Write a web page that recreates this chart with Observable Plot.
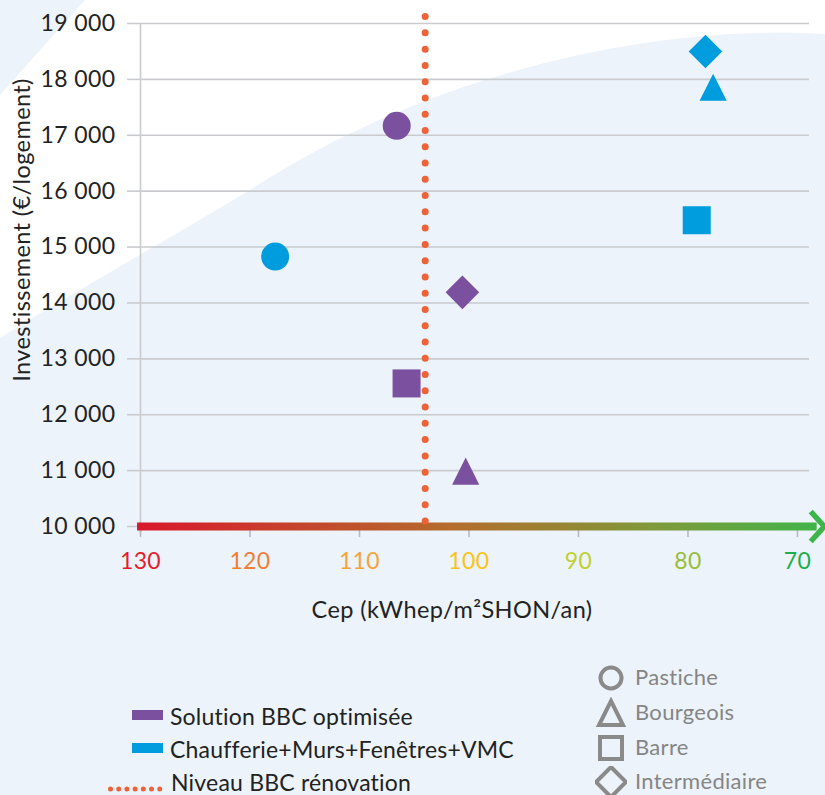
<!DOCTYPE html>
<html>
<head>
<meta charset="utf-8">
<script src="https://cdn.jsdelivr.net/npm/d3@7"></script>
<script src="https://cdn.jsdelivr.net/npm/@observablehq/plot@0.6"></script>
<style>
  html, body { margin: 0; padding: 0; }
  body { width: 825px; height: 795px; overflow: hidden; background: #ECF3FA; font-family: Lato, "Open Sans", sans-serif; }
  #wrap { position: relative; width: 825px; height: 795px; }
  #bg { position: absolute; left: 0; top: 0; }
  #chart { position: absolute; left: 0; top: 0; }
  #chart svg text { letter-spacing: 0.4px; }
  .leg { position: absolute; font-size: 23px; color: #222; white-space: nowrap; line-height: 1; letter-spacing: 0.2px; }
  .leg2 { position: absolute; font-size: 22px; color: #858585; white-space: nowrap; line-height: 1; letter-spacing: 0.3px; }
  .sw { position: absolute; }
</style>
</head>
<body>
<div id="wrap">
  <svg id="bg" width="825" height="795">
    <path d="M85,0 L825,0 L825,34 C680,25 450,60 250,190 C150,250 60,300 0,338 L0,95 Z" fill="#ffffff"/>
  </svg>
  <div id="chart"></div>
  <div id="legend"></div>
</div>
<script>
// ---- data ----
const buildingTypes = ["Pastiche", "Bourgeois", "Barre", "Intermédiaire"];
const seriesNames = ["Solution BBC optimisée", "Chaufferie+Murs+Fenêtres+VMC"];
const cepOptimisee = [106.6, 100.3, 105.7, 100.6];
const invOptimisee = [17170, 10990, 12560, 14190];
const cepChaufferie = [117.7, 77.7, 79.2, 78.4];
const invChaufferie = [14830, 17860, 15480, 18500];
const niveauBBC = 104;
const niveauLabel = "Niveau BBC rénovation";
const xTicks = [130, 120, 110, 100, 90, 80, 70];
const yTicks = [10000, 11000, 12000, 13000, 14000, 15000, 16000, 17000, 18000, 19000];
const xLabel = "Cep (kWhep/m²SHON/an)";
const yLabel = "Investissement (€/logement)";

// ---- styles ----
const seriesColors = ["#7B509F", "#009DDE"];
const tickColors = {130: "#E31E2C", 120: "#F07F35", 110: "#F5A43A", 100: "#FBC318", 90: "#BFD030", 80: "#98BE3A", 70: "#1DAE4C"};
const orange = "#EE6237";
const grid = "#C9CBCE";

function rOf(size) { return Math.sqrt(size / Math.PI); }
const shapeSymbols = [
  {draw(c, s) { const r = rOf(s); c.moveTo(r, 0); c.arc(0, 0, r, 0, 2 * Math.PI); }},
  {draw(c, s) { const r = rOf(s) * 0.97; c.moveTo(0, -r); c.lineTo(r, r); c.lineTo(-r, r); c.closePath(); }},
  {draw(c, s) { const r = rOf(s); c.rect(-r, -r, 2 * r, 2 * r); }},
  {draw(c, s) { const r = rOf(s) * 1.2; c.moveTo(0, -r); c.lineTo(r, 0); c.lineTo(0, r); c.lineTo(-r, 0); c.closePath(); }}
];
const chevron = {draw(c, s) { const r = rOf(s); c.moveTo(-r * 0.45, -r); c.lineTo(r * 0.45, 0); c.lineTo(-r * 0.45, r); }};

const points = [];
buildingTypes.forEach((t, i) => {
  points.push({type: t, cep: cepOptimisee[i], inv: invOptimisee[i], color: seriesColors[0]});
  points.push({type: t, cep: cepChaufferie[i], inv: invChaufferie[i], color: seriesColors[1]});
});

const fmt = d3.formatLocale({decimal: ",", thousands: "\u00a0", grouping: [3]}).format(",");

const W = 825, H = 640;
const plot = Plot.plot({
  width: W,
  height: H,
  marginLeft: 140,
  marginRight: 16,
  marginTop: 23,
  marginBottom: H - 526,
  style: {background: "transparent", fontFamily: "Lato, 'Open Sans', sans-serif", overflow: "visible"},
  x: {domain: [130, 68.9], axis: null},
  y: {domain: [10000, 19000], axis: null},
  color: {type: "identity"},
  marks: [
    Plot.gridY(yTicks, {stroke: grid, strokeOpacity: 1, strokeWidth: 1.6}),
    Plot.axisY({ticks: yTicks, tickSize: 13, tickPadding: 12, stroke: grid, strokeWidth: 1.6, tickFormat: fmt, fontSize: 23, fill: "#222", label: null}),
    Plot.ruleX([130], {stroke: grid, strokeWidth: 1.6, y1: 9870, y2: 19000}),
    Plot.axisX({ticks: xTicks, tickSize: 11, stroke: "#B9BBBE", strokeWidth: 1.6, tickFormat: () => "", label: null}),
    Plot.ruleY([10000], {x1: 130.27, x2: 68.2, stroke: "url(#axisGrad)", strokeWidth: 8}),
    Plot.dot([68.9], {x: d => d, y: 10000, dx: 8, r: 15, symbol: chevron, stroke: "#3DB54A", fill: "none", strokeWidth: 5.5}),
    Plot.text(xTicks, {x: d => d, y: 10000, dy: 35, text: d => String(d), fill: d => tickColors[d], fontSize: 23}),
    Plot.ruleX([niveauBBC], {y1: 10090, y2: 19125, stroke: orange, strokeWidth: 7, strokeLinecap: "round", strokeDasharray: "0 16.27"}),
    ...buildingTypes.map((t, i) => Plot.dot(points.filter(p => p.type === t), {x: "cep", y: "inv", r: 14, symbol: shapeSymbols[i], fill: "color", stroke: "none"})),
    Plot.text([xLabel], {text: d => d, frameAnchor: "bottom", dx: -23, dy: 91, fontSize: 23.5, fill: "#222"}),
    Plot.text([yLabel], {text: d => d, frameAnchor: "left", textAnchor: "middle", rotate: -90, dx: -118, dy: -45, fontSize: 23.5, fill: "#222"})
  ]
});

// gradient for the x axis line, positioned through the x scale
const xs = plot.scale("x");
const defs = d3.select(plot).insert("defs", ":first-child");
const g = defs.append("linearGradient").attr("id", "axisGrad").attr("gradientUnits", "userSpaceOnUse")
  .attr("x1", xs.apply(130.27)).attr("x2", xs.apply(66.9)).attr("y1", 0).attr("y2", 0);
g.append("stop").attr("offset", "0").attr("stop-color", "#D8182B");
g.append("stop").attr("offset", "0.45").attr("stop-color", "#B46C2C");
g.append("stop").attr("offset", "0.75").attr("stop-color", "#7E9A3A");
g.append("stop").attr("offset", "1").attr("stop-color", "#3BB54A");

document.getElementById("chart").appendChild(plot);

// ---- legends (HTML below the SVG) ----
const legend = document.getElementById("legend");
function add(html) { legend.insertAdjacentHTML("beforeend", html); }
const leftTops = [705, 738];
seriesNames.forEach((name, i) => {
  const top = leftTops[i];
  add(`<svg class="sw" style="left:132px;top:${top + 5}px" width="31" height="10"><rect width="31" height="10" fill="${seriesColors[i]}"/></svg>`);
  add(`<div class="leg" style="left:170px;top:${top}px">${name}</div>`);
});
{
  const top = 771;
  let dots = "";
  for (let k = 0; k < 7; k++) dots += `<circle cx="${2.5 + k * 8.2}" cy="3" r="2.5" fill="${orange}"/>`;
  add(`<svg class="sw" style="left:108px;top:${top + 15}px" width="58" height="6">${dots}</svg>`);
  add(`<div class="leg" style="left:171px;top:${top}px">${niveauLabel}</div>`);
}
const rightTops = [666, 701, 736, 770];
const legendShapes = [
  `<circle cx="16" cy="16" r="10.5"/>`,
  `<path d="M16,4 L28,28 L4,28 Z"/>`,
  `<rect x="5" y="5" width="22" height="22"/>`,
  `<path d="M16,1 L31,16 L16,31 L1,16 Z"/>`
];
buildingTypes.forEach((t, i) => {
  const top = rightTops[i];
  add(`<svg class="sw" style="left:595px;top:${top - 4}px" width="32" height="32"><g fill="none" stroke="#8A8A8A" stroke-width="4">${legendShapes[i]}</g></svg>`);
  add(`<div class="leg2" style="left:635px;top:${top}px">${t}</div>`);
});
</script>
</body>
</html>
